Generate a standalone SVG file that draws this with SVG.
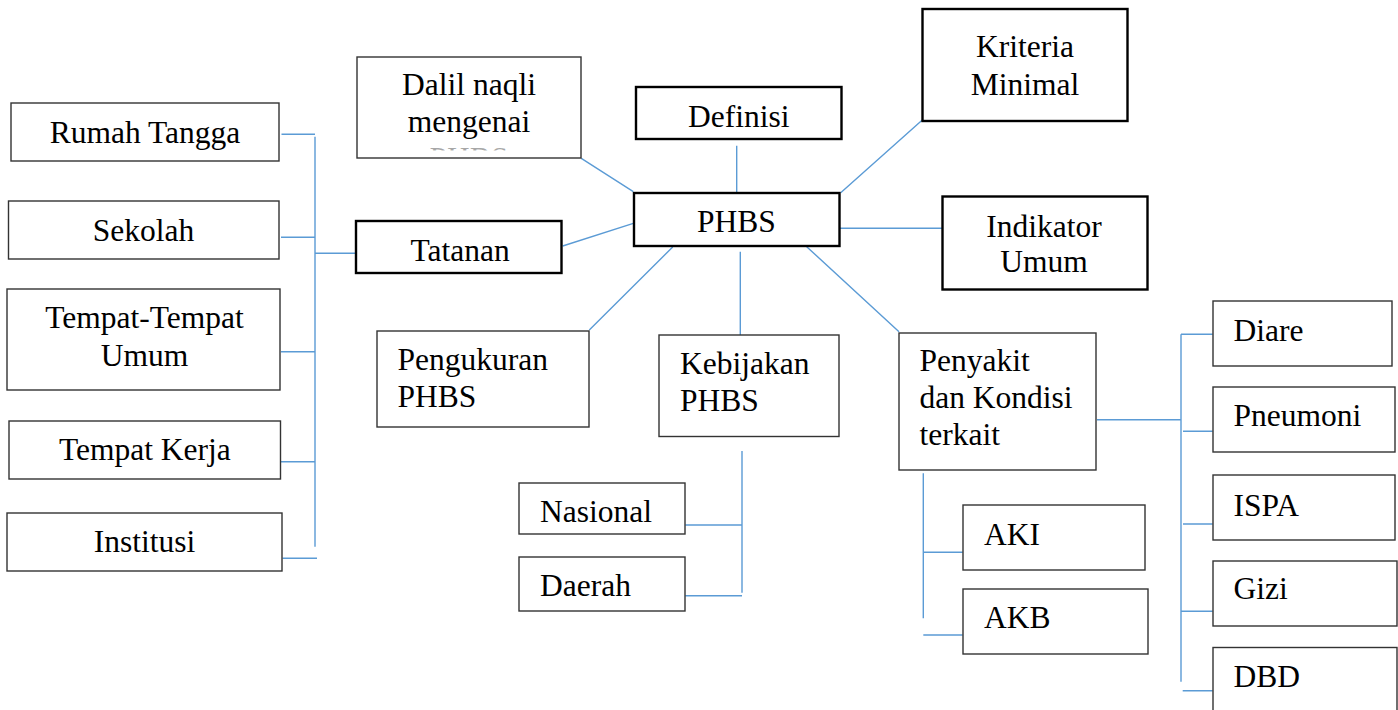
<svg xmlns="http://www.w3.org/2000/svg" width="1398" height="710" viewBox="0 0 1398 710">
<style>
.b{fill:#fff;stroke:#333;stroke-width:1.4}
.k{fill:#fff;stroke:#000;stroke-width:2.4}
.t{font-family:"Liberation Serif","Times New Roman",serif;font-size:31.5px;fill:#000}
.c{text-anchor:middle}
.ln{fill:none;stroke:#5b9bd5;stroke-width:1.4}
</style>
<defs>
<clipPath id="dclip"><rect x="357" y="147" width="224" height="3.5"/></clipPath>
</defs>
<rect width="1398" height="710" fill="#fff"/>
<g id="connectors" class="ln">
<path d="M281.5 134.3H315M315 136.7V546.7M281 237.3H315M315 253.3H357M281 351.7H315M281 461.7H315M282.5 558.3H317"/>
<path d="M581.3 158.3L633.3 191.7M562.7 246L633.3 223.3M736.7 145.7V192.7M840.7 192.7L922.3 120M840 228.3H942.3"/>
<path d="M672.7 247L589.3 330M740.3 251.7V335M806.7 246.7L899 331.7"/>
<path d="M742 451V592.7M685.3 525H742M685.3 595.7H742"/>
<path d="M1097 419.7H1181M1181 334.3V681.7M1181 334.3H1212.7M1183 431.3H1212.7M1183 524H1212.7M1181 611.3H1212.7M1182.7 690.7H1212.7"/>
<path d="M923.3 473.3V618.3M923.3 552.3H962.7M923.3 635H962.7"/>
</g>
<g id="rumah-tangga"><rect class="b" x="11" y="103" width="268" height="58"/><text class="t c" x="145" y="143">Rumah Tangga</text></g>
<g id="sekolah"><rect class="b" x="8.5" y="201" width="270.5" height="58"/><text class="t c" x="143.5" y="240.7">Sekolah</text></g>
<g id="tempat-umum"><rect class="b" x="7" y="289" width="273" height="101"/><text class="t c" x="144.5" y="328.3">Tempat-Tempat</text><text class="t c" x="144.5" y="365.7">Umum</text></g>
<g id="tempat-kerja"><rect class="b" x="9" y="421" width="271.5" height="58"/><text class="t c" x="144.8" y="460">Tempat Kerja</text></g>
<g id="institusi"><rect class="b" x="7" y="513" width="275" height="58"/><text class="t c" x="144.5" y="551.7">Institusi</text></g>
<g id="dalil"><rect class="b" x="357" y="57" width="224" height="101"/><text class="t c" x="469" y="95">Dalil naqli</text><text class="t c" x="469" y="131.7">mengenai</text><text class="t c" x="469" y="169" clip-path="url(#dclip)" fill-opacity="0.35">PHBS</text></g>
<g id="tatanan"><rect class="k" x="356" y="221" width="205.5" height="52"/><text class="t c" x="460.2" y="260.7">Tatanan</text></g>
<g id="definisi"><rect class="k" x="636" y="87" width="205.5" height="52"/><text class="t c" x="738.7" y="126.7">Definisi</text></g>
<g id="phbs"><rect class="k" x="634" y="193" width="205.5" height="53"/><text class="t c" x="736.5" y="232.3">PHBS</text></g>
<g id="kriteria"><rect class="k" x="922.5" y="9" width="205" height="112"/><text class="t c" x="1025" y="56.7">Kriteria</text><text class="t c" x="1025" y="95">Minimal</text></g>
<g id="indikator"><rect class="k" x="942.5" y="196.5" width="205" height="93"/><text class="t c" x="1044" y="236.7">Indikator</text><text class="t c" x="1044" y="271.7">Umum</text></g>
<g id="pengukuran"><rect class="b" x="377" y="331" width="212" height="96"/><text class="t" x="397.5" y="370">Pengukuran</text><text class="t" x="397.5" y="406.7">PHBS</text></g>
<g id="kebijakan"><rect class="b" x="659" y="335" width="180" height="101.5"/><text class="t" x="680" y="374">Kebijakan</text><text class="t" x="680" y="411">PHBS</text></g>
<g id="nasional"><rect class="b" x="519" y="483" width="166" height="51"/><text class="t" x="540" y="521.7">Nasional</text></g>
<g id="daerah"><rect class="b" x="519" y="557" width="166" height="54"/><text class="t" x="540" y="596">Daerah</text></g>
<g id="penyakit"><rect class="b" x="899" y="333" width="197" height="137"/><text class="t" x="919.5" y="371">Penyakit</text><text class="t" x="919.5" y="408.3">dan Kondisi</text><text class="t" x="919.5" y="445">terkait</text></g>
<g id="aki"><rect class="b" x="963" y="505" width="182" height="65"/><text class="t" x="984" y="545">AKI</text></g>
<g id="akb"><rect class="b" x="963" y="589" width="185" height="65"/><text class="t" x="984" y="628.3">AKB</text></g>
<g id="diare"><rect class="b" x="1213" y="301" width="179" height="65"/><text class="t" x="1233.5" y="341">Diare</text></g>
<g id="pneumoni"><rect class="b" x="1213" y="387" width="182" height="65"/><text class="t" x="1233.5" y="426">Pneumoni</text></g>
<g id="ispa"><rect class="b" x="1213" y="475" width="182" height="65"/><text class="t" x="1233.5" y="516">ISPA</text></g>
<g id="gizi"><rect class="b" x="1213" y="561" width="184" height="65"/><text class="t" x="1233.5" y="599.3">Gizi</text></g>
<g id="dbd"><rect class="b" x="1213" y="647.5" width="184" height="70"/><text class="t" x="1233.5" y="686.7">DBD</text></g>
</svg>
